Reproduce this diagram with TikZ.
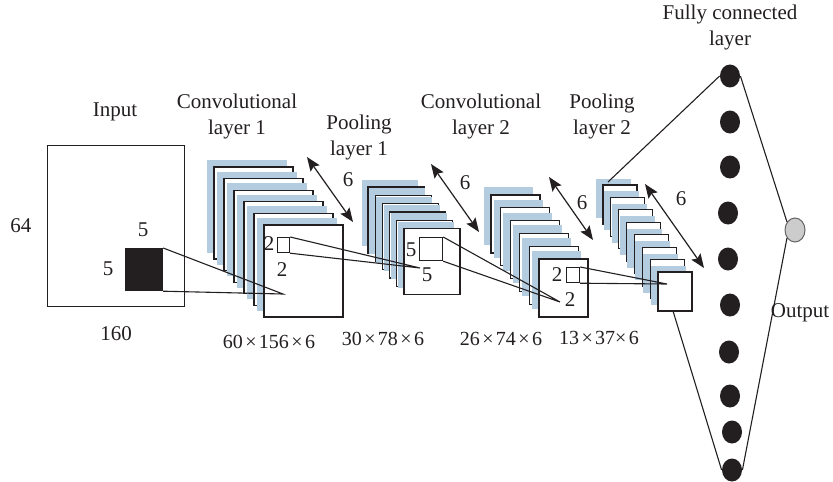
\documentclass[tikz,border=0pt]{standalone}
\usepackage{fontspec}
\setmainfont{Liberation Serif}
\usetikzlibrary{arrows.meta,shapes.geometric}
\definecolor{mapblue}{HTML}{B3CCE0}
\definecolor{ink}{HTML}{231F20}
\definecolor{outgray}{HTML}{CCCCCC}
\newcommand{\tms}{\hspace{0.12em}×\hspace{0.12em}}

\begin{document}
\begin{tikzpicture}[x=0.5pt,y=-0.5pt,
  every node/.style={font=\fontsize{10.5}{13}\selectfont, text=ink},
  lbl/.style={inner sep=0pt},
  title/.style={inner sep=0pt, align=center},
  dimlbl/.style={inner sep=0pt, font=\fontsize{10}{12}\selectfont},
  map/.style={draw=ink, fill=white, line width=0.6pt},
  wire/.style={draw=ink, line width=0.55pt},
  dimarrow/.style={draw=ink, line width=0.6pt, {Stealth[length=7pt,width=5.5pt,inset=1.2pt]}-{Stealth[length=7pt,width=5.5pt,inset=1.2pt]}},
  neuron/.style={ellipse, fill=ink, draw=none, minimum width=10pt, minimum height=11.5pt, inner sep=0pt},
  outneuron/.style={ellipse, fill=outgray, draw=ink!70, line width=0.5pt, minimum width=10pt, minimum height=12pt, inner sep=0pt},
  patch/.style={draw=ink, line width=0.6pt, inner sep=0pt, anchor=north west},
]
\useasboundingbox (0,0) rectangle (833,481);

% ---- input image and its 5x5 kernel
\node[patch, minimum width=68.5pt, minimum height=80.5pt] (input) at (47,145) {};
\node[patch, fill=ink, minimum width=18.5pt, minimum height=21pt] (kern) at (125,248) {};

% ---- convolutional layer 1 (six feature maps)
\foreach \k in {0,...,5}{
  \fill[mapblue] ({207+10*\k},{160+11.6*\k}) rectangle ++(80,93);
  \draw[map] ({214+10*\k},{167+11.6*\k}) rectangle ++(79,92);
}
\node[patch, fill=white, minimum width=6pt, minimum height=7.5pt] (sq1) at (277,237) {};

% ---- pooling layer 1
\foreach \k in {0,...,5}{
  \fill[mapblue] ({362+7.2*\k},{180+8.3*\k}) rectangle ++(56,66);
  \draw[map] ({368+7.2*\k},{187+8.3*\k}) rectangle ++(56,66);
}
\node[patch, fill=white, minimum width=11.5pt, minimum height=11.5pt] (sq2) at (419,237) {};

% ---- convolutional layer 2
\foreach \k in {0,...,5}{
  \fill[mapblue] ({484+9.6*\k},{187+12.8*\k}) rectangle ++(49,58);
  \draw[map] ({491+9.6*\k},{195+12.8*\k}) rectangle ++(49,58);
}
\node[patch, fill=white, minimum width=6.5pt, minimum height=7.5pt] (sq3) at (566,267) {};

% ---- pooling layer 2
\foreach \k in {0,...,7}{
  \fill[mapblue] ({596+7.86*\k},{179+12.43*\k}) rectangle ++(35,39);
  \draw[map] ({603+7.86*\k},{185+12.43*\k}) rectangle ++(34,39);
}

% ---- receptive-field projections
\coordinate (f1) at (283,294);
\coordinate (f2) at (420,268);
\coordinate (f3) at (560,302);
\coordinate (f4) at (667,284);
\draw[wire] (kern.north east) -- (f1) -- (kern.south east);
\draw[wire] (sq1.north east) -- (f2) -- (sq1.south east);
\draw[wire] (sq2.north east) -- (f3) -- (sq2.south east);
\draw[wire] (sq3.north east) -- (f4) -- (sq3.south east);

% ---- depth arrows
\coordinate (a1s) at (307,157); \coordinate (a1e) at (353,222);
\coordinate (a2s) at (431,164); \coordinate (a2e) at (479,232);
\coordinate (a3s) at (549,177); \coordinate (a3e) at (593,240);
\coordinate (a4s) at (645,184); \coordinate (a4e) at (704,268);
\draw[dimarrow] (a1s) -- (a1e);
\draw[dimarrow] (a2s) -- (a2e);
\draw[dimarrow] (a3s) -- (a3e);
\draw[dimarrow] (a4s) -- (a4e);
\node[lbl] (d1) at (348,180) {6};
\node[lbl] (d2) at (465,183) {6};
\node[lbl] (d3) at (582,203) {6};
\node[lbl] (d4) at (681,199) {6};

% ---- fully connected layer and output
\node[neuron] (fc1) at (730,76) {};
\node[neuron] (fc2) at (730,122) {};
\node[neuron] (fc3) at (730,167) {};
\node[neuron] (fc4) at (728,213) {};
\node[neuron] (fc5) at (728,259) {};
\node[neuron] (fc6) at (730,305) {};
\node[neuron] (fc7) at (729,352) {};
\node[neuron] (fc8) at (730,396) {};
\node[neuron] (fc9) at (732,432) {};
\node[neuron] (fc10) at (732,470) {};
\node[outneuron] (out) at (795,230) {};

\coordinate (p2top) at (608,182);
\coordinate (p2bot) at (673,311);
\draw[wire] (p2top) -- (fc1.west);
\draw[wire] (p2bot) -- (fc10.west);
\draw[wire] (fc1.east) -- (out.135);
\draw[wire] (out.225) -- (fc10.east);

% ---- labels
\node[lbl] (tin) at (115,112) {Input};
\node[title] (tc1) at (237,116) {Convolutional\\layer 1};
\node[title] (tp1) at (359,137.5) {Pooling\\layer 1};
\node[title] (tc2) at (481,116.5) {Convolutional\\layer 2};
\node[title] (tp2) at (602,116.5) {Pooling\\layer 2};
\node[title] (tfc) at (730,27.5) {Fully connected\\layer};
\node[lbl] (tout) at (800,313) {Output};

\node[lbl] (h64) at (21,226) {64};
\node[lbl] (w160) at (116,334) {160};
\node[lbl] (k5a) at (143,230) {5};
\node[lbl] (k5b) at (108,269) {5};
\node[lbl] (s1a) at (269,244) {2};
\node[lbl] (s1b) at (282,270) {2};
\node[lbl] (s2a) at (411,250) {5};
\node[lbl] (s2b) at (427,275) {5};
\node[lbl] (s3a) at (557,275) {2};
\node[lbl] (s3b) at (570,300) {2};

\node[dimlbl] (sz1) at (269,342) {60\tms156\tms6};
\node[dimlbl] (sz2) at (383,339) {30\tms78\tms6};
\node[dimlbl] (sz3) at (501,339) {26\tms74\tms6};
\node[dimlbl] (sz4) at (599,338) {13\tms37×\hspace{0.12em}6};
\end{tikzpicture}
\end{document}
